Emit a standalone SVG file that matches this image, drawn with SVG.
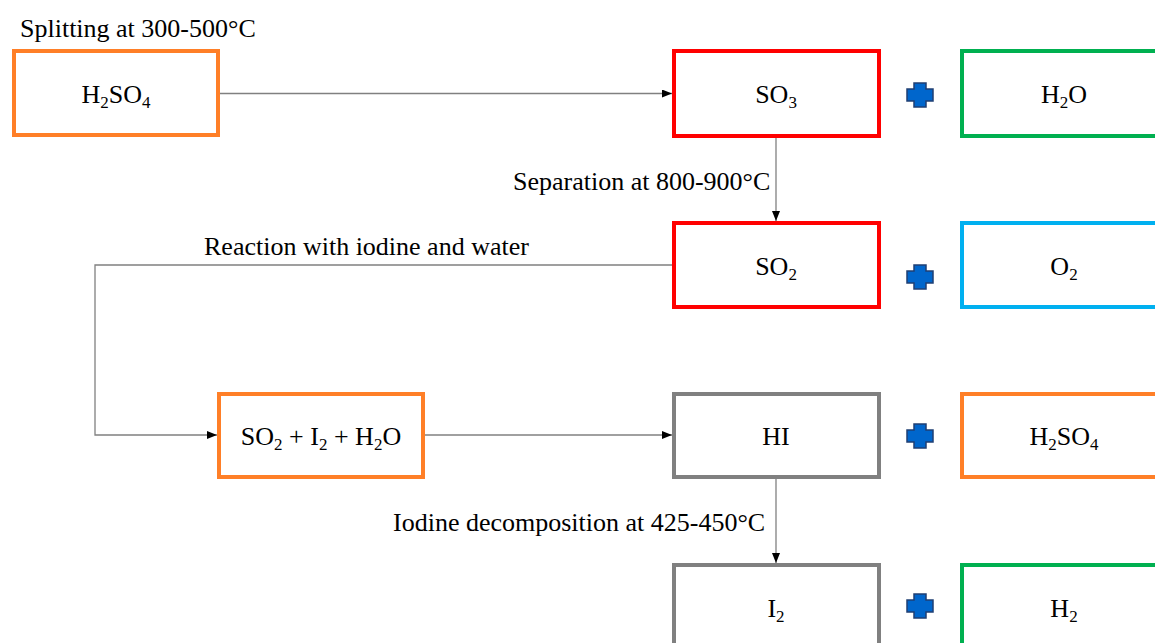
<svg xmlns="http://www.w3.org/2000/svg" width="1155" height="643" viewBox="0 0 1155 643">
<style>
text{font-family:"Liberation Serif","Times New Roman",serif;font-size:26px;fill:#000}
.c{text-anchor:middle}
.b{fill:#fff;stroke-width:4}
.or{stroke:#FF7F27}.rd{stroke:#FF0000}.gr{stroke:#00B050}.lb{stroke:#00B0F0}.gy{stroke:#808080}
.con{fill:none;stroke:#808080;stroke-width:1.3}
.plus{fill:#0066CC;stroke:#1F3F73;stroke-width:1.5}
tspan.s{font-size:17px}
</style>
<defs>
<marker id="ar" markerWidth="10" markerHeight="8" refX="10" refY="4" orient="auto" markerUnits="userSpaceOnUse">
<path d="M0,0 L10,4 L0,8 Z" fill="#000"/>
</marker>
<path id="pl" class="plus" d="M-6,-12 H6 V-6 H13 V6 H6 V12 H-6 V6 H-13 V-6 H-6 Z"/>
</defs>
<rect width="1155" height="643" fill="#fff"/>
<g id="connectors">
<path class="con" d="M220,93.5 H672" marker-end="url(#ar)"/>
<path class="con" d="M776,138 V221" marker-end="url(#ar)"/>
<path class="con" d="M672,265 H95 V435 H217" marker-end="url(#ar)"/>
<path class="con" d="M425,435 H672" marker-end="url(#ar)"/>
<path class="con" d="M776,479 V563" marker-end="url(#ar)"/>
</g>
<g id="labels">
<text x="20" y="37">Splitting at 300-500°C</text>
<text x="513" y="190">Separation at 800-900°C</text>
<text x="204" y="255">Reaction with iodine and water</text>
<text x="393" y="531">Iodine decomposition at 425-450°C</text>
</g>
<g id="n-h2so4-top"><rect class="b or" x="14" y="51" width="204" height="84"/><text class="c" x="116" y="103">H<tspan class="s" dy="5">2</tspan><tspan dy="-5">SO</tspan><tspan class="s" dy="5">4</tspan></text></g>
<g id="n-so3"><rect class="b rd" x="674" y="51" width="205" height="85"/><text class="c" x="776" y="103">SO<tspan class="s" dy="5">3</tspan></text></g>
<g id="plus1"><use href="#pl" x="920" y="95"/></g>
<g id="n-h2o"><rect class="b gr" x="962" y="51" width="210" height="85"/><text class="c" x="1064" y="103">H<tspan class="s" dy="5">2</tspan><tspan dy="-5">O</tspan></text></g>
<g id="n-so2"><rect class="b rd" x="674" y="223" width="205" height="84"/><text class="c" x="776" y="275">SO<tspan class="s" dy="5">2</tspan></text></g>
<g id="plus2"><use href="#pl" x="920" y="277"/></g>
<g id="n-o2"><rect class="b lb" x="962" y="223" width="210" height="84"/><text class="c" x="1064" y="275">O<tspan class="s" dy="5">2</tspan></text></g>
<g id="n-mix"><rect class="b or" x="219" y="394" width="204" height="83"/><text class="c" x="321" y="445">SO<tspan class="s" dy="5">2</tspan><tspan dy="-5"> + I</tspan><tspan class="s" dy="5">2</tspan><tspan dy="-5"> + H</tspan><tspan class="s" dy="5">2</tspan><tspan dy="-5">O</tspan></text></g>
<g id="n-hi"><rect class="b gy" x="674" y="394" width="205" height="83"/><text class="c" x="776" y="445">HI</text></g>
<g id="plus3"><use href="#pl" x="920" y="436"/></g>
<g id="n-h2so4-out"><rect class="b or" x="962" y="394" width="210" height="83"/><text class="c" x="1064" y="445">H<tspan class="s" dy="5">2</tspan><tspan dy="-5">SO</tspan><tspan class="s" dy="5">4</tspan></text></g>
<g id="n-i2"><rect class="b gy" x="674" y="565" width="205" height="90"/><text class="c" x="776" y="617">I<tspan class="s" dy="5">2</tspan></text></g>
<g id="plus4"><use href="#pl" x="920" y="606"/></g>
<g id="n-h2"><rect class="b gr" x="962" y="565" width="210" height="90"/><text class="c" x="1064" y="617">H<tspan class="s" dy="5">2</tspan></text></g>
</svg>
